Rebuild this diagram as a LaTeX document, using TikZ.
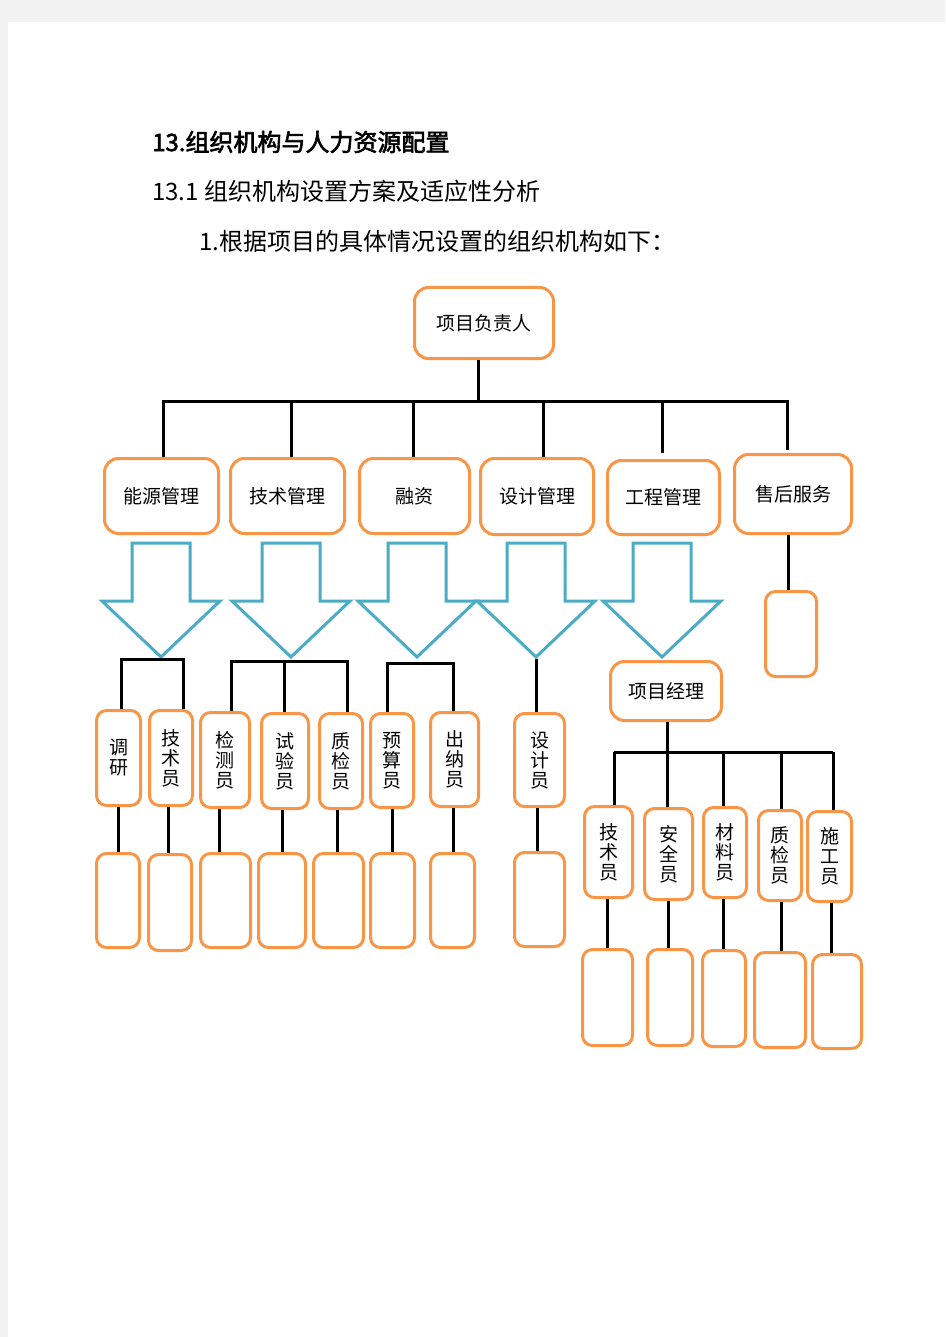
\documentclass[tikz,border=0pt]{standalone}
\usepackage{fontspec}
\newfontfamily\cjk[AutoFakeBold=2.5]{Noto Sans CJK SC}
\definecolor{boxorange}{HTML}{F79646}
\definecolor{arrowblue}{HTML}{4BACC6}
\definecolor{pagegray}{HTML}{F2F2F2}
\newcommand{\obx}[7][obox]{\node[#1, minimum width={#5-#3-3}, minimum height={#6-#4-3}] (#2) at ({(#3+#5)/2},{(#4+#6)/2}) {#7};}
\newcommand{\vlink}[3]{\coordinate (tmpx) at (#3,0); \draw[link] (#1.south -| tmpx) -- (#2.north -| tmpx);}
\newcommand{\blockarrow}[1]{\draw[downarrow] ({#1-29},543) -- ({#1+29},543) -- ({#1+29},601) -- ({#1+59},601) -- (#1,657) -- ({#1-59},601) -- ({#1-29},601) -- cycle;}
\begin{document}
\begin{tikzpicture}[x=1pt,y=-1pt,
 obox/.style={draw=boxorange, line width=3pt, rounded corners=14pt, fill=white, inner sep=0pt, font=\cjk\fontsize{19}{20}\selectfont, align=center},
 nbox/.style={obox, rounded corners=10pt},
 link/.style={draw=black, line width=3pt},
 downarrow/.style={draw=arrowblue, line width=3pt, fill=white, line join=miter},
 titletext/.style={font=\cjk\fontsize{24}{28}\selectfont, anchor=west, inner sep=0pt}]
% page
\fill[pagegray] (0,0) rectangle (945,1337);
\fill[white] (8,22) rectangle (945,1337);
\useasboundingbox (0,0) rectangle (945,1337);
% headings
\node[titletext, font=\cjk\bfseries\fontsize{24}{28}\selectfont] (h1) at (152,142) {13.组织机构与人力资源配置};
\node[titletext] (h2) at (152,191) {13.1 组织机构设置方案及适应性分析};
\node[titletext] (h3) at (199,241) {1.根据项目的具体情况设置的组织机构如下：};
% top
\obx{top}{413}{286}{555}{360}{项目负责人}
% level 2
\obx{l1}{103}{457}{220}{535}{能源管理}
\obx{l2}{229}{457}{346}{535}{技术管理}
\obx{l3}{358}{457}{471}{535}{融资}
\obx{l4}{479}{457}{595}{536}{设计管理}
\obx{l5}{606}{459}{721}{536}{工程管理}
\obx{l6}{733}{453}{853}{535}{售后服务}
\obx[nbox]{ss}{764}{590}{818}{678}{}
% bus level 1
\coordinate (bus0) at (478,401);
\coordinate (j1) at (163,401);
\coordinate (j2) at (291,401);
\coordinate (j3) at (413,401);
\coordinate (j4) at (543,401);
\coordinate (j5) at (662,401);
\coordinate (j6) at (787,401);
\draw[link] (top.south -| bus0) -- (bus0);
\draw[link, line cap=rect] (j1) -- (j6);
\draw[link] (j1) -- (l1.north -| j1);
\draw[link] (j2) -- (l2.north -| j2);
\draw[link] (j3) -- (l3.north -| j3);
\draw[link] (j4) -- (l4.north -| j4);
\draw[link, shorten >=6pt] (j5) -- (l5.north -| j5);
\draw[link, shorten >=3pt] (j6) -- (l6.north -| j6);
\vlink{l6}{ss}{788}
% arrows
\blockarrow{161}
\blockarrow{291}
\blockarrow{417}
\blockarrow{536}
\blockarrow{662}
% level 3
\obx[nbox]{c1}{95}{709}{142}{807}{调\\研}
\obx[nbox]{c2}{148}{709}{194}{807}{技\\术\\员}
\obx[nbox]{c3}{199}{711}{251}{809}{检\\测\\员}
\obx[nbox]{c4}{260}{712}{310}{810}{试\\验\\员}
\obx[nbox]{c5}{318}{712}{364}{810}{质\\检\\员}
\obx[nbox]{c6}{369}{712}{415}{809}{预\\算\\员}
\obx[nbox]{c7}{429}{711}{480}{808}{出\\纳\\员}
\obx[nbox]{sj}{513}{712}{566}{808}{设\\计\\员}
\obx{pm}{609}{660}{723}{722}{项目经理}
% group brackets
\coordinate (g1a) at (121,659); \coordinate (g1b) at (183,659);
\draw[link] (c1.north -| g1a) -- (g1a) -- (g1b) -- (c2.north -| g1b);
\coordinate (g2a) at (231,661); \coordinate (g2b) at (284,661); \coordinate (g2c) at (347,661);
\draw[link] (c3.north -| g2a) -- (g2a) -- (g2c) -- (c5.north -| g2c);
\draw[link] (g2b) -- (c4.north -| g2b);
\coordinate (g3a) at (387,663); \coordinate (g3b) at (453,663);
\draw[link] (c6.north -| g3a) -- (g3a) -- (g3b) -- (c7.north -| g3b);
\coordinate (g4) at (536,659);
\draw[link] (g4) -- (sj.north -| g4);
% project manager subtree
\obx[nbox]{r1}{583}{805}{634}{899}{技\\术\\员}
\obx[nbox]{r2}{643}{807}{694}{901}{安\\全\\员}
\obx[nbox]{r3}{702}{806}{748}{899}{材\\料\\员}
\obx[nbox]{r4}{757}{809}{803}{902}{质\\检\\员}
\obx[nbox]{r5}{806}{810}{853}{903}{施\\工\\员}
\coordinate (pb0) at (667,752);
\coordinate (pb1) at (614,752);
\coordinate (pb3) at (723,752);
\coordinate (pb4) at (781,752);
\coordinate (pb5) at (833,752);
\draw[link] (pm.south -| pb0) -- (r2.north -| pb0);
\draw[link] (pb1) -- (pb5);
\draw[link] (pb1) -- (r1.north -| pb1);
\draw[link] (pb3) -- (r3.north -| pb3);
\draw[link] (pb4) -- (r4.north -| pb4);
\draw[link] (pb5) -- (r5.north -| pb5);
% level 4 (empty boxes)
\obx[nbox]{d1}{95}{852}{141}{949}{}
\obx[nbox]{d2}{147}{853}{193}{952}{}
\obx[nbox]{d3}{199}{852}{252}{949}{}
\obx[nbox]{d4}{257}{852}{307}{949}{}
\obx[nbox]{d5}{312}{852}{365}{949}{}
\obx[nbox]{d6}{369}{852}{416}{949}{}
\obx[nbox]{d7}{429}{852}{476}{949}{}
\obx[nbox]{dj}{513}{851}{566}{948}{}
\obx[nbox]{e1}{581}{948}{634}{1047}{}
\obx[nbox]{e2}{646}{948}{694}{1047}{}
\obx[nbox]{e3}{701}{949}{747}{1048}{}
\obx[nbox]{e4}{753}{951}{807}{1049}{}
\obx[nbox]{e5}{811}{953}{863}{1050}{}
\vlink{c1}{d1}{118}
\vlink{c2}{d2}{168}
\vlink{c3}{d3}{219}
\vlink{c4}{d4}{282}
\vlink{c5}{d5}{337}
\vlink{c6}{d6}{392}
\vlink{c7}{d7}{453}
\vlink{sj}{dj}{537}
\vlink{r1}{e1}{607}
\vlink{r2}{e2}{668}
\vlink{r3}{e3}{723}
\vlink{r4}{e4}{781}
\vlink{r5}{e5}{831}
\end{tikzpicture}
\end{document}
